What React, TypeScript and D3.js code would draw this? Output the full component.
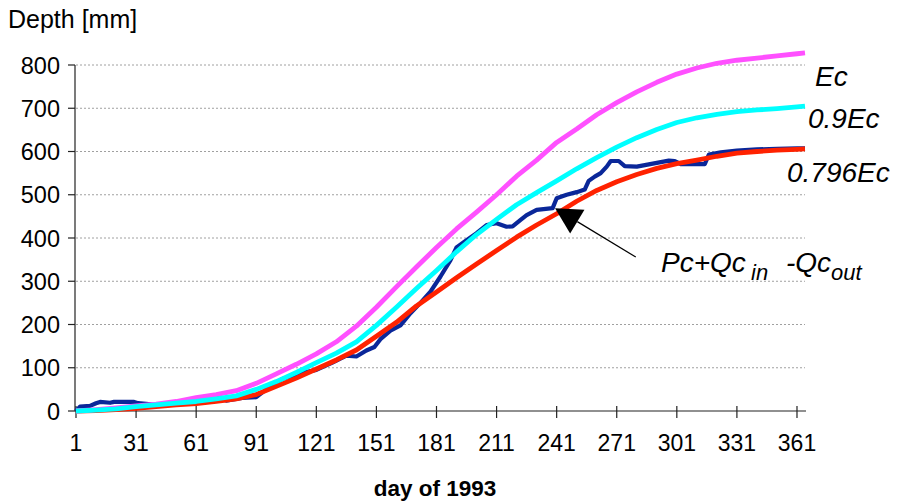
import React from "react";
import * as d3 from "d3";

// ---- Data ----
const smoothDays = [1, 11, 21, 31, 41, 51, 61, 71, 81, 91, 101, 111, 121, 131, 141, 151, 161, 171, 181, 191, 201, 211, 221, 231, 241, 251, 261, 271, 281, 291, 301, 311, 321, 331, 341, 351, 361, 365];
const ecValues = [0, 3, 7, 12, 16, 22, 31, 38, 47, 64, 86, 108, 132, 160, 196, 240, 287, 333, 378, 421, 460, 500, 543, 580, 621, 652, 685, 713, 738, 760, 779, 793, 804, 811, 816, 821, 826, 828];
const ec09Values = [0, 2, 5, 10, 14, 18, 22, 28, 35, 50, 68, 89, 112, 134, 160, 198, 240, 283, 325, 368, 408, 443, 477, 505, 532, 560, 586, 610, 632, 651, 667, 678, 686, 692, 696, 699, 703, 705];
const ec0796Values = [0, 1, 3, 6, 10, 14, 17, 22, 28, 38, 57, 76, 97, 118, 141, 173, 205, 243, 275, 308, 340, 371, 402, 430, 456, 485, 510, 530, 547, 561, 572, 580, 589, 596, 600, 603, 605, 606];

const pqDays = [1, 3, 8, 11, 13, 18, 20, 30, 32, 40, 50, 55, 60, 66, 72, 76, 84, 91, 96, 100, 104, 113, 121, 129, 136, 141, 146, 150, 153, 158, 163, 168, 173, 178, 183, 188, 191, 196, 201, 206, 211, 216, 219, 223, 226, 231, 239, 241, 246, 251, 255, 257, 260, 263, 266, 268, 272, 275, 281, 289, 297, 300, 303, 315, 317, 323, 331, 341, 351, 361, 365];
const pqValues = [0, 10, 12, 18, 21, 19, 21, 21, 18, 15, 16, 18, 28, 32, 30, 24, 30, 32, 50, 62, 74, 87, 95, 112, 128, 126, 140, 148, 166, 186, 198, 226, 250, 276, 311, 349, 378, 395, 411, 430, 434, 426, 427, 442, 453, 465, 469, 492, 500, 506, 512, 532, 542, 550, 565, 578, 578, 566, 565, 572, 579, 578, 571, 571, 593, 598, 602, 605, 606, 607, 607];

const yTicks = [0, 100, 200, 300, 400, 500, 600, 700, 800];
const xTicks = [1, 31, 61, 91, 121, 151, 181, 211, 241, 271, 301, 331, 361];

const W = 899;
const H = 504;

export default function App() {
  const x = d3.scaleLinear().domain([1, 365]).range([76, 805]);
  const y = d3.scaleLinear().domain([0, 800]).range([411, 65]);

  const line = d3
    .line<[number, number]>()
    .x((d) => x(d[0]))
    .y((d) => y(d[1]));

  const zip = (ds: number[], vs: number[]) => ds.map((d, i) => [d, vs[i]] as [number, number]);

  const font = "Arial, 'Liberation Sans', Helvetica, sans-serif";

  // arrow: from label to the Pc+Qc line
  const tip: [number, number] = [x(240.2), y(469)];
  const tail: [number, number] = [x(280.5), y(356)];
  const dx = tip[0] - tail[0];
  const dy = tip[1] - tail[1];
  const len = Math.sqrt(dx * dx + dy * dy);
  const ux = dx / len;
  const uy = dy / len;
  const headLen = 26;
  const headHalf = 13.8;
  const bx = tip[0] - ux * headLen;
  const by = tip[1] - uy * headLen;
  const head = `${tip[0]},${tip[1]} ${bx - uy * headHalf},${by + ux * headHalf} ${bx + uy * headHalf},${by - ux * headHalf}`;

  return (
    <svg
      width={W}
      height={H}
      style={{ position: "absolute", left: 0, top: 0, background: "#fff" }}
      fontFamily={font}
    >
      <rect x={0} y={0} width={W} height={H} fill="#fff" />
      {/* gridlines */}
      {yTicks.filter((t) => t > 0).map((t) => (
        <line
          key={"g" + t}
          x1={x(1)}
          x2={x(365)}
          y1={y(t)}
          y2={y(t)}
          stroke="#a0a0a0"
          strokeWidth={1}
          strokeDasharray="2,2"
        />
      ))}
      {/* y axis */}
      <line x1={x(1) - 1} x2={x(1) - 1} y1={y(800)} y2={y(0)} stroke="#222" strokeWidth={1.2} />
      {yTicks.map((t) => (
        <g key={"y" + t}>
          <line x1={x(1) - 8} x2={x(1) - 1} y1={y(t)} y2={y(t)} stroke="#222" strokeWidth={1.2} />
          <text x={60} y={y(t) + 8.5} textAnchor="end" fontSize={23.5} fill="#000">
            {t}
          </text>
        </g>
      ))}
      {/* x axis */}
      <line x1={x(1) - 1} x2={x(365) + 1} y1={y(0)} y2={y(0)} stroke="#222" strokeWidth={1.2} />
      {xTicks.map((t) => (
        <g key={"x" + t}>
          <line x1={x(t)} x2={x(t)} y1={y(0) - 5} y2={y(0) + 7} stroke="#222" strokeWidth={1.2} />
          <text x={x(t)} y={451} textAnchor="middle" fontSize={23} fill="#000">
            {t}
          </text>
        </g>
      ))}

      {/* series */}
      <path d={line(zip(pqDays, pqValues)) || ""} fill="none" stroke="#0a2799" strokeWidth={4.2} strokeLinejoin="round" />
      <path d={line(zip(smoothDays, ec0796Values)) || ""} fill="none" stroke="#ff2200" strokeWidth={4.8} strokeLinejoin="round" />
      <path d={line(zip(smoothDays, ecValues)) || ""} fill="none" stroke="#ff50ff" strokeWidth={4.8} strokeLinejoin="round" />
      <path d={line(zip(smoothDays, ec09Values)) || ""} fill="none" stroke="#00ffff" strokeWidth={4.8} strokeLinejoin="round" />

      {/* arrow annotation */}
      <line x1={tail[0]} y1={tail[1]} x2={bx} y2={by} stroke="#000" strokeWidth={1.2} />
      <polygon points={head} fill="#000" />

      {/* labels */}
      <text x={8} y={28} fontSize={25} fill="#000">
        Depth [mm]
      </text>
      <text x={435} y={496} textAnchor="middle" fontSize={22.5} fontWeight="bold" fill="#000">
        day of 1993
      </text>
      <text x={815} y={86} fontSize={28} fontStyle="italic" fill="#000">
        Ec
      </text>
      <text x={808} y={128} fontSize={28} fontStyle="italic" fill="#000">
        0.9Ec
      </text>
      <text x={787} y={182} fontSize={28} fontStyle="italic" fill="#000">
        0.796Ec
      </text>
      <text y={272} fontSize={28} fontStyle="italic" fill="#000">
        <tspan x={661}>Pc+Qc</tspan>
        <tspan x={751} y={280} fontSize={22}>in</tspan>
        <tspan x={786} y={272}>-Qc</tspan>
        <tspan x={831} y={280} fontSize={22}>out</tspan>
      </text>
    </svg>
  );
}
